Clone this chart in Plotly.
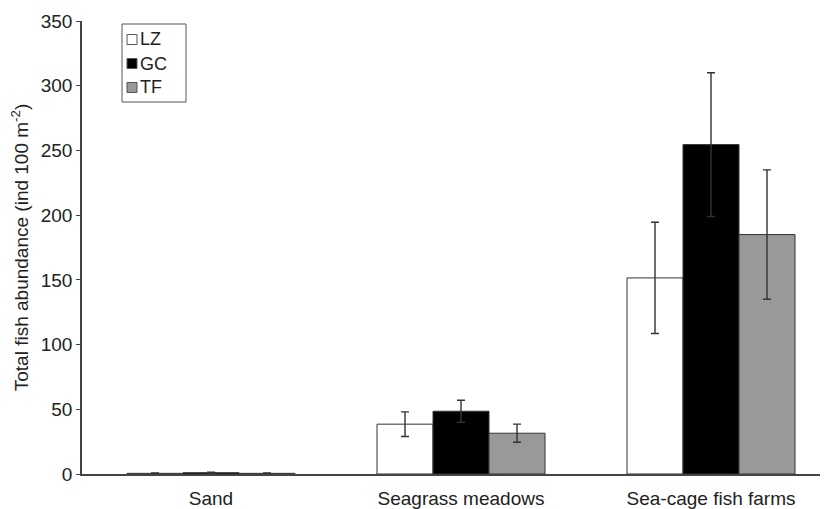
import plotly.graph_objects as go

categories = ["Sand", "Seagrass meadows", "Sea-cage fish farms"]
series = ["LZ", "GC", "TF"]
lz = [0.5, 38.5, 151.5]
lz_err = [0.3, 9.5, 43]
gc = [1.0, 48.5, 254.5]
gc_err = [0.4, 8.5, 55.5]
tf = [0.5, 31.5, 185]
tf_err = [0.3, 7, 50]

values = [lz, gc, tf]
errors = [lz_err, gc_err, tf_err]
colors = ["#ffffff", "#000000", "#999999"]

# figure geometry (page has an 8px body margin)
W, H = 820, 501
ML, MR, MT, MB = 74, 0, 13, 35
PW, PH = W - ML - MR, H - MT - MB

fig = go.Figure()
for name, v, e, c in zip(series, values, errors, colors):
    fig.add_trace(go.Bar(
        x=categories, y=v, name=name, showlegend=False,
        marker=dict(color=c, line=dict(color="#333333", width=1)),
        error_y=dict(type="data", array=e, visible=True, color="#333333",
                     thickness=1.4, width=4),
    ))

# custom legend (box, swatches, labels) in paper coordinates
def px_x(p):  # pixel offset inside plot -> paper
    return p / PW

def px_y(p):
    return p / PH

box_x0, box_w = px_x(40), px_x(64)
box_y1, box_h = 1 - px_y(3), px_y(78)
shapes = [dict(type="rect", xref="paper", yref="paper",
               x0=box_x0, x1=box_x0 + box_w, y0=box_y1 - box_h, y1=box_y1,
               line=dict(color="#555555", width=1), fillcolor="white", layer="above")]
annotations = []
sq = 10
row0, row_step = 18.5, 24
for i, (name, c) in enumerate(zip(series, colors)):
    cy = 1 - px_y(row0 + i * row_step)
    sx0 = px_x(45)
    shapes.append(dict(type="rect", xref="paper", yref="paper",
                       x0=sx0, x1=sx0 + px_x(sq),
                       y0=cy - px_y(sq / 2), y1=cy + px_y(sq / 2),
                       line=dict(color="#555555", width=1), fillcolor=c, layer="above"))
    annotations.append(dict(xref="paper", yref="paper", x=px_x(56), y=cy,
                            text=name, showarrow=False, xanchor="left", yanchor="middle",
                            font=dict(size=18, color="#222222")))

fig.update_layout(
    width=W, height=H,
    barmode="group", bargap=0.328, bargroupgap=0,
    plot_bgcolor="white", paper_bgcolor="white",
    margin=dict(l=ML, r=MR, t=MT, b=MB, autoexpand=False),
    font=dict(family="Liberation Sans, Arial, sans-serif", size=19, color="#222222"),
    showlegend=False,
    shapes=shapes,
    annotations=annotations,
)
fig.update_xaxes(
    range=[-0.516, 2.468], showline=True, linecolor="#444444", linewidth=1.5,
    ticks="outside", ticklen=6, tickcolor="rgba(0,0,0,0)", showgrid=False,
    tickfont=dict(size=19), automargin=False,
)
fig.update_yaxes(
    range=[0, 350], dtick=50, showline=True, linecolor="#444444", linewidth=1.5,
    ticks="outside", ticklen=4, tickcolor="#444444", showgrid=False,
    tickfont=dict(size=19), automargin=False,
    title=dict(text="Total fish abundance (ind 100 m<sup>-2</sup>)", font=dict(size=19), standoff=10),
    zeroline=False,
)

fig.write_html("out.html")
